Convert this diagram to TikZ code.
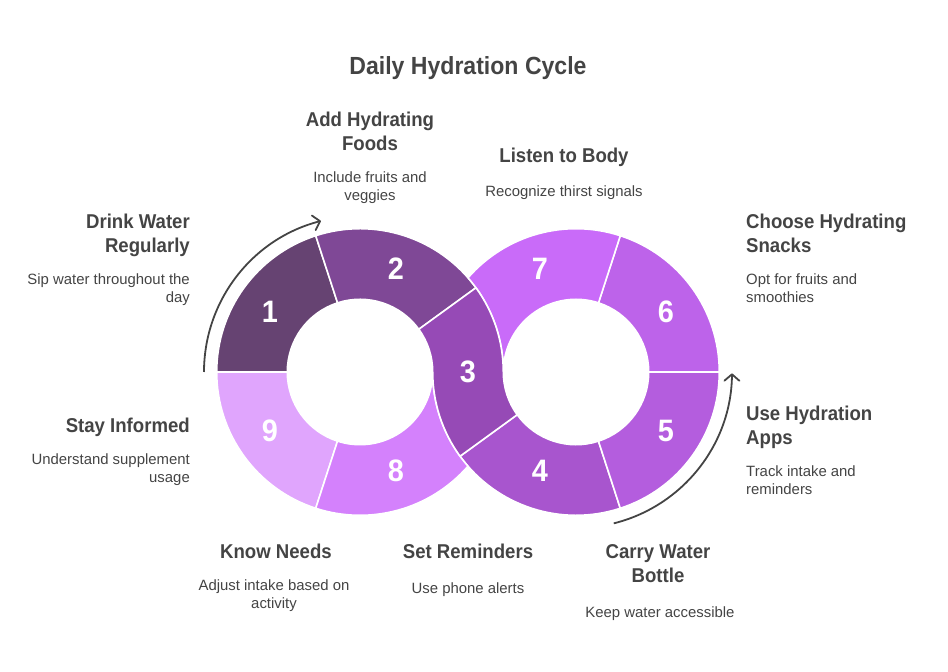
\documentclass[tikz,border=0pt]{standalone}
\usepackage{fontspec}
\setmainfont{Liberation Sans}
\newfontfamily\headfont{Liberation Sans}[FakeStretch=0.93]
\usetikzlibrary{calc,arrows.meta}

\definecolor{segone}{HTML}{664372}
\definecolor{segtwo}{HTML}{7F4896}
\definecolor{segthree}{HTML}{964AB6}
\definecolor{segfour}{HTML}{A855CE}
\definecolor{segfive}{HTML}{B45DDE}
\definecolor{segsix}{HTML}{BD63EA}
\definecolor{segseven}{HTML}{C96BF9}
\definecolor{segeight}{HTML}{D481FC}
\definecolor{segnine}{HTML}{E0A5FD}
\definecolor{inktext}{HTML}{444444}

\tikzset{
    segment/.style={draw=white, line width=1.6pt, line join=round},
    number/.style={text=white, font=\headfont\fontsize{31}{31}\selectfont\bfseries, inner sep=0pt},
    heading/.style={text=inktext, font=\headfont\fontsize{20}{24}\selectfont\bfseries, inner sep=0pt},
    blurb/.style={text=inktext, font=\fontsize{14.9}{18}\selectfont, inner sep=0pt},
    sweep/.style={draw=inktext, line width=1.8pt, -{Straight Barb[length=6.5pt,width=15pt,round]}}
}

\def\ro{143.3pt}
\def\ri{72.7pt}

% one plain wedge: centre, start angle, end angle, colour
\newcommand{\wedgeseg}[4]{
    \filldraw[segment, fill=#4] ($(#1)+(#2:\ro)$) arc[start angle=#2, end angle=#3, radius=\ro]
    -- ($(#1)+(#3:\ri)$) arc[start angle=#3, end angle=#2, radius=\ri] -- cycle;
}

\begin{document}
\begin{tikzpicture}[x=1pt, y=1pt]
    \useasboundingbox (0,0) rectangle (948,672);

    \coordinate (left) at (360,300);
    \coordinate (right) at (576,300);

    \node[text=inktext, font=\headfont\fontsize{24.8}{28}\selectfont\bfseries, inner sep=0pt] (title) at (468,604) {Daily Hydration Cycle};

    \wedgeseg{left}{180}{108}{segone}
    \wedgeseg{left}{108}{36}{segtwo}
    \wedgeseg{right}{288}{216}{segfour}
    \wedgeseg{right}{360}{288}{segfive}
    \wedgeseg{right}{72}{0}{segsix}
    \wedgeseg{left}{252}{180}{segnine}

    % the three that interlock
    \filldraw[segment, fill=segseven] ($(right)+(72:\ro)$) arc[start angle=72, end angle=138.9, radius=\ro]
    arc[start angle=41.1, end angle=0, radius=\ro]
    arc[start angle=180, end angle=72, radius=\ri] -- cycle;

    \filldraw[segment, fill=segeight] ($(left)+(252:\ro)$) arc[start angle=252, end angle=318.9, radius=\ro]
    arc[start angle=221.1, end angle=180, radius=\ro]
    arc[start angle=360, end angle=252, radius=\ri] -- cycle;

    \filldraw[segment, fill=segthree] ($(left)+(36:\ri)$) -- ($(left)+(36:\ro)$)
    arc[start angle=36, end angle=0, radius=\ro]
    arc[start angle=180, end angle=216, radius=\ri]
    -- ($(right)+(216:\ro)$)
    arc[start angle=216, end angle=180, radius=\ro]
    arc[start angle=0, end angle=36, radius=\ri] -- cycle;

    \node[number] (n1) at (270,360) {1};
    \node[number] (n2) at (396,403) {2};
    \node[number] (n3) at (468,300) {3};
    \node[number] (n4) at (540,201) {4};
    \node[number] (n5) at (666,241) {5};
    \node[number] (n6) at (666,360) {6};
    \node[number] (n7) at (540,403) {7};
    \node[number] (n8) at (396,201) {8};
    \node[number] (n9) at (270,241) {9};

    \draw[sweep] ($(left)+(180:156pt)$) arc[start angle=180, end angle=104.5, radius=156pt];
    \draw[sweep] ($(right)+(284:156pt)$) arc[start angle=284, end angle=359.5, radius=156pt];

    \node[heading, anchor=north east, align=right] (h1) at (190,458) {Drink Water\\Regularly};
    \node[blurb, anchor=north east, align=right] (b1) at (190,398) {Sip water throughout the\\day};

    \node[heading, anchor=north, align=center] (h2) at (370,560) {Add Hydrating\\Foods};
    \node[blurb, anchor=north, align=center] (b2) at (370,500) {Include fruits and\\veggies};

    \node[heading, anchor=north, align=center] (h3) at (564,524) {Listen to Body};
    \node[blurb, anchor=north, align=center] (b3) at (564,486) {Recognize thirst signals};

    \node[heading, anchor=north west, align=left] (h4) at (746,458) {Choose Hydrating\\Snacks};
    \node[blurb, anchor=north west, align=left] (b4) at (746,398) {Opt for fruits and\\smoothies};

    \node[heading, anchor=north west, align=left] (h5) at (746,266) {Use Hydration\\Apps};
    \node[blurb, anchor=north west, align=left] (b5) at (746,206) {Track intake and\\reminders};

    \node[heading, anchor=north, align=center] (h6) at (658,128) {Carry Water\\Bottle};
    \node[blurb, anchor=north, align=center] (b6) at (660,65) {Keep water accessible};

    \node[heading, anchor=north, align=center] (h7) at (468,128) {Set Reminders};
    \node[blurb, anchor=north, align=center] (b7) at (468,89) {Use phone alerts};

    \node[heading, anchor=north, align=center] (h8) at (276,128) {Know Needs};
    \node[blurb, anchor=north, align=center] (b8) at (274,92) {Adjust intake based on\\activity};

    \node[heading, anchor=north east, align=right] (h9) at (190,254) {Stay Informed};
    \node[blurb, anchor=north east, align=right] (b9) at (190,218) {Understand supplement\\usage};
\end{tikzpicture}
\end{document}
